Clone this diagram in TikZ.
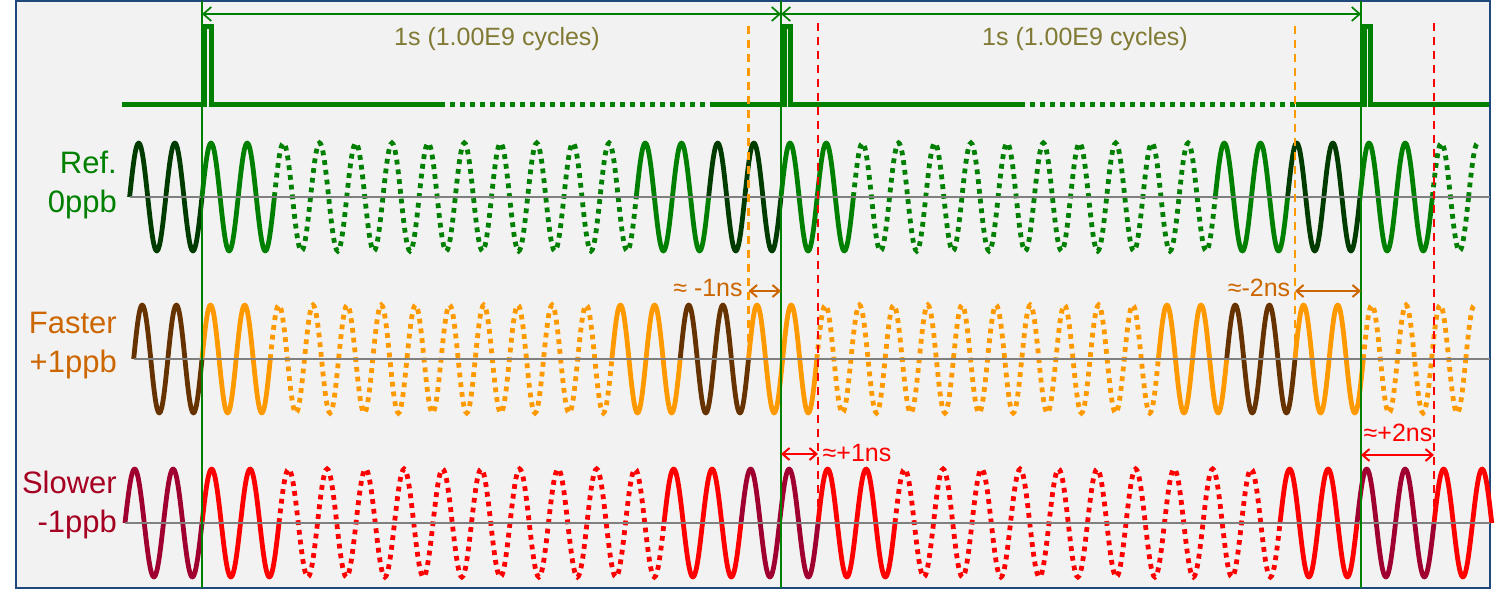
\documentclass[tikz,border=0pt]{standalone}
\usepackage{fontspec}
\setmainfont{Liberation Sans}
\usetikzlibrary{arrows.meta}

\definecolor{refgreen}{RGB}{0,128,0}
\definecolor{refdark}{RGB}{0,60,0}
\definecolor{fastorange}{RGB}{255,153,0}
\definecolor{fastdark}{RGB}{102,51,0}
\definecolor{fasttext}{RGB}{204,102,0}
\definecolor{slowred}{RGB}{255,0,0}
\definecolor{slowdark}{RGB}{160,0,48}
\definecolor{slowtext}{RGB}{165,0,33}
\definecolor{cycletext}{RGB}{128,122,52}
\definecolor{frameblue}{RGB}{31,73,125}
\definecolor{panel}{RGB}{242,242,242}

\tikzset{
  wdk/.style={line width=4.8pt, draw=rowdark, line join=round},
  wlt/.style={line width=4.8pt, draw=rowlight, line join=round},
  wdt/.style={line width=4.8pt, draw=rowlight, dash pattern=on 4.8pt off 5pt},
  axisline/.style={draw=gray, line width=2pt},
  marker/.style={draw=refgreen, line width=2pt},
  pulse/.style={draw=refgreen, line width=5pt},
  pulsedot/.style={draw=refgreen, line width=5pt, dash pattern=on 5pt off 5pt},
  dimline/.style={draw=refgreen, line width=1.7pt, {Straight Barb[length=8pt,width=14pt]}-{Straight Barb[length=8pt,width=14pt]}},
  fastdash/.style={draw=fastorange, line width=2.5pt, dash pattern=on 8pt off 6pt},
  slowdash/.style={draw=slowred, line width=2.5pt, dash pattern=on 8pt off 6pt},
  fastgap/.style={draw=fasttext, line width=2pt, {Straight Barb[length=7pt,width=12pt]}-{Straight Barb[length=7pt,width=12pt]}},
  slowgap/.style={draw=slowred, line width=2pt, {Straight Barb[length=7pt,width=12pt]}-{Straight Barb[length=7pt,width=12pt]}},
  rowlabel/.style={font=\fontsize{31}{37}\selectfont, inner sep=0pt},
  cyclelabel/.style={font=\fontsize{25}{30}\selectfont, text=cycletext, inner sep=0pt, anchor=base},
  gaplabel/.style={font=\fontsize{25}{30}\selectfont, inner sep=0pt, anchor=base}
}

\newcommand\wseg[5]{%
  \pgfmathtruncatemacro\ha{2*(#4)}%
  \pgfmathtruncatemacro\hb{2*(#5)-1}%
  \draw[#1] ({202+(#4)*#3},#2) \foreach \h in {\ha,...,\hb} {
    sin ({202+(\h+0.5)*#3/2},{#2-54*cos(180*\h)}) cos ({202+(\h+1)*#3/2},#2)};
}
\newcommand\wrow[3]{%
  \foreach \ka/\kb/\st in {-2/0/wdk,0/2/wlt,2/12/wdt,12/14/wlt,14/16/wdk,16/18/wlt,18/28/wdt,28/30/wlt,30/32/wdk,#3}
    {\wseg{\st}{#1}{#2}{\ka}{\kb}}
}

\begin{document}
\begin{tikzpicture}[x=1pt,y=-1pt]
  \useasboundingbox (0,0) rectangle (1496,590);
  \draw[draw=frameblue, line width=2.5pt, fill=panel] (16,1) rectangle (1490,588);

  \coordinate (m0) at (202,14);
  \coordinate (m1) at (781,14);
  \coordinate (m2) at (1361,14);

  \draw[pulse] (122,104) -- (204,104) -- (204,26) -- (211,26) -- (211,104) -- (440,104);
  \draw[pulsedot] (440,104) -- (712,104);
  \draw[pulse] (712,104) -- (784,104) -- (784,26) -- (790,26) -- (790,104) -- (1020,104);
  \draw[pulsedot] (1020,104) -- (1296,104);
  \draw[pulse] (1296,104) -- (1364,104) -- (1364,26) -- (1370,26) -- (1370,104) -- (1489,104);

  \colorlet{rowdark}{refdark}\colorlet{rowlight}{refgreen}
  \wrow{197}{36.1875}{32/34/wlt,34/35/wdt}
  \draw[wdt] (1468.56,197) sin (1477.61,143);
  \colorlet{rowdark}{fastdark}\colorlet{rowlight}{fastorange}
  \wrow{359}{34.156}{32/34/wlt,34/37/wdt}
  \draw[wdt] (1465.77,359) sin (1474.31,305);
  \colorlet{rowdark}{slowdark}\colorlet{rowlight}{slowred}
  \wrow{523}{38.5}{32/33.5/wlt}

  \draw[axisline] (129.6,197) -- (1490,197);
  \draw[axisline] (133.7,359) -- (1490,359);
  \draw[axisline] (125,523) -- (1490,523);

  \draw[marker] (202,1) -- (202,588);
  \draw[marker] (781,1) -- (781,588);
  \draw[marker] (1361,1) -- (1361,588);

  \draw[fastdash] (748.5,26) -- (748.5,358);
  \draw[fastdash] (1295,26) -- (1295,358);
  \draw[slowdash] (818,23) -- (818,523);
  \draw[slowdash] (1434,23) -- (1434,523);

  \draw[dimline] (m0) -- (m1);
  \draw[dimline] (m1) -- (m2);
  \node[cyclelabel] (sec1) at (497,45) {1s (1.00E9 cycles)};
  \node[cyclelabel] (sec2) at (1085,45) {1s (1.00E9 cycles)};

  \node[rowlabel, text=refgreen, anchor=base east] (refa) at (117,173) {Ref.};
  \node[rowlabel, text=refgreen, anchor=base east] (refb) at (117,212) {0ppb};
  \node[rowlabel, text=fasttext, anchor=base east] (fasta) at (117,333) {Faster};
  \node[rowlabel, text=fasttext, anchor=base east] (fastb) at (117,372) {+1ppb};
  \node[rowlabel, text=slowtext, anchor=base east] (slowa) at (117,493) {Slower};
  \node[rowlabel, text=slowtext, anchor=base east] (slowb) at (117,532) {-1ppb};

  \coordinate (fa1) at (748.5,291);
  \coordinate (fb1) at (781,291);
  \coordinate (fa2) at (1295,291);
  \coordinate (fb2) at (1361,291);
  \coordinate (sa1) at (781,454);
  \coordinate (sb1) at (818,454);
  \coordinate (sa2) at (1361,455);
  \coordinate (sb2) at (1434,455);
  \draw[fastgap] (fa1) -- (fb1);
  \draw[fastgap] (fa2) -- (fb2);
  \draw[slowgap] (sa1) -- (sb1);
  \draw[slowgap] (sa2) -- (sb2);
  \node[gaplabel, text=fasttext] (fns1) at (708,296) {≈ -1ns};
  \node[gaplabel, text=fasttext] (fns2) at (1259,296) {≈-2ns};
  \node[gaplabel, text=slowred] (sns1) at (857,461) {≈+1ns};
  \node[gaplabel, text=slowred] (sns2) at (1398,441) {≈+2ns};
\end{tikzpicture}
\end{document}
